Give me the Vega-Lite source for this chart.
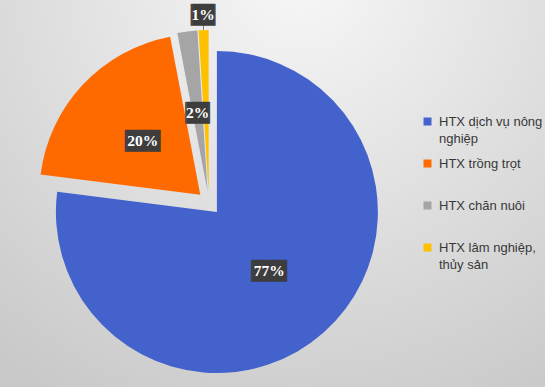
{
  "$schema": "https://vega.github.io/schema/vega-lite/v6.json",
  "width": 545,
  "height": 387,
  "autosize": {"type": "fit", "contains": "padding"},
  "padding": 0,
  "background": "#d6d6d6",
  "view": {
    "stroke": null,
    "fill": {
      "gradient": "radial",
      "x1": 0.55, "y1": 0.1, "r1": 0,
      "x2": 0.55, "y2": 0.1, "r2": 0.9,
      "stops": [
        {"offset": 0, "color": "#f7f7f7"},
        {"offset": 0.45, "color": "#e2e2e2"},
        {"offset": 1, "color": "#c8c8c8"}
      ]
    }
  },
  "config": {
    "style": {"guide-label": {"dy": 4.5, "lineHeight": 17}}
  },
  "data": {
    "values": [
      {"category": "HTX dịch vụ nông nghiệp", "share": 0.77},
      {"category": "HTX trồng trọt", "share": 0.20},
      {"category": "HTX chăn nuôi", "share": 0.02},
      {"category": "HTX lâm nghiệp, thủy sản", "share": 0.01}
    ]
  },
  "encoding": {
    "color": {
      "field": "category",
      "type": "nominal",
      "scale": {
        "domain": ["HTX dịch vụ nông nghiệp", "HTX trồng trọt", "HTX chăn nuôi", "HTX lâm nghiệp, thủy sản"],
        "range": ["#4462CC", "#FF6A00", "#A5A5A5", "#FFC000"]
      },
      "legend": {
        "title": null,
        "orient": "none",
        "legendX": 421,
        "legendY": 115,
        "symbolType": "square",
        "symbolSize": 64,
        "symbolStrokeWidth": 0,
        "labelFont": "Liberation Sans",
        "labelFontSize": 13,
        "labelColor": "#383838",
        "labelBaseline": "alphabetic",
        "labelLimit": 200,
        "labelOffset": 5,
        "gridAlign": "all",
        "rowPadding": 11,
        "labelExpr": "datum.label == 'HTX dịch vụ nông nghiệp' ? ['HTX dịch vụ nông', 'nghiệp'] : datum.label == 'HTX lâm nghiệp, thủy sản' ? ['HTX lâm nghiệp,', 'thủy sản'] : datum.label"
      }
    }
  },
  "layer": [
    {
      "transform": [
        {"stack": "share", "groupby": [], "sort": [{"field": "share", "order": "descending"}], "as": ["s0", "s1"]},
        {"filter": "datum.category === 'HTX dịch vụ nông nghiệp'"}
      ],
      "mark": {"type": "arc", "outerRadius": 161, "xOffset": 7.9, "yOffset": 9.0},
      "encoding": {
        "x": {"datum": 0, "type": "quantitative", "stack": null, "scale": {"domain": [-209, 336], "nice": false, "zero": false}, "axis": null},
        "y": {"datum": 0, "type": "quantitative", "stack": null, "scale": {"domain": [-184, 203], "nice": false, "zero": false}, "axis": null},
        "theta": {"field": "s0", "type": "quantitative", "scale": {"domain": [0, 1], "range": [0, 6.283185307179586]}},
        "theta2": {"field": "s1"}
      }
    },
    {
      "transform": [
        {"stack": "share", "groupby": [], "sort": [{"field": "share", "order": "descending"}], "as": ["s0", "s1"]},
        {"filter": "datum.category === 'HTX trồng trọt'"}
      ],
      "mark": {"type": "arc", "outerRadius": 161, "xOffset": -8.7, "yOffset": -8.2},
      "encoding": {
        "x": {"datum": 0, "type": "quantitative", "stack": null, "axis": null},
        "y": {"datum": 0, "type": "quantitative", "stack": null, "axis": null},
        "theta": {"field": "s0", "type": "quantitative"},
        "theta2": {"field": "s1"}
      }
    },
    {
      "transform": [
        {"stack": "share", "groupby": [], "sort": [{"field": "share", "order": "descending"}], "as": ["s0", "s1"]},
        {"filter": "datum.category === 'HTX chăn nuôi'"}
      ],
      "mark": {"type": "arc", "outerRadius": 161, "xOffset": -1.5, "yOffset": -11.9},
      "encoding": {
        "x": {"datum": 0, "type": "quantitative", "stack": null, "axis": null},
        "y": {"datum": 0, "type": "quantitative", "stack": null, "axis": null},
        "theta": {"field": "s0", "type": "quantitative"},
        "theta2": {"field": "s1"}
      }
    },
    {
      "transform": [
        {"stack": "share", "groupby": [], "sort": [{"field": "share", "order": "descending"}], "as": ["s0", "s1"]},
        {"filter": "datum.category === 'HTX lâm nghiệp, thủy sản'"}
      ],
      "mark": {"type": "arc", "outerRadius": 161, "xOffset": -0.4, "yOffset": -12},
      "encoding": {
        "x": {"datum": 0, "type": "quantitative", "stack": null, "axis": null},
        "y": {"datum": 0, "type": "quantitative", "stack": null, "axis": null},
        "theta": {"field": "s0", "type": "quantitative"},
        "theta2": {"field": "s1"}
      }
    },
    {
      "transform": [
        {"stack": "share", "groupby": [], "sort": [{"field": "share", "order": "descending"}], "as": ["s0", "s1"]},
        {"filter": "datum.category === 'HTX lâm nghiệp, thủy sản'"}
      ],
      "mark": {"type": "arc", "innerRadius": 161, "outerRadius": 168, "padAngle": 0.0401, "xOffset": -0.4, "yOffset": -12, "color": "#767676"},
      "encoding": {
        "x": {"datum": 0, "type": "quantitative", "stack": null, "axis": null},
        "y": {"datum": 0, "type": "quantitative", "stack": null, "axis": null},
        "theta": {"field": "s0", "type": "quantitative"},
        "theta2": {"field": "s1"},
        "color": {"value": "#767676"}
      }
    },
    {
      "mark": {"type": "text", "x": {"expr": "scale('x', 0)"}, "y": {"expr": "scale('y', 0)"}, "radius": 91, "font": "DejaVu Sans Mono", "fontSize": 18.5, "align": "center", "baseline": "middle"},
      "encoding": {
        "theta": {"field": "share", "type": "quantitative", "stack": true, "scale": {"domain": [0, 1], "range": [0, 6.283185307179586]}},
        "order": {"field": "share", "type": "quantitative", "sort": "descending"},
        "detail": {"field": "category"},
        "color": {"value": "#3d3d3d"},
        "text": {"condition": [{"test": "datum.share < 0.015", "value": ""}, {"test": "datum.share < 0.05", "value": "▕██▏"}], "value": "▕███▏"}
      }
    },
    {
      "mark": {"type": "text", "x": {"expr": "scale('x', 0)"}, "y": {"expr": "scale('y', 0)"}, "radius": 188, "font": "DejaVu Sans Mono", "fontSize": 18.5, "align": "center", "baseline": "middle"},
      "encoding": {
        "theta": {"field": "share", "type": "quantitative", "stack": true},
        "order": {"field": "share", "type": "quantitative", "sort": "descending"},
        "detail": {"field": "category"},
        "color": {"value": "#3d3d3d"},
        "text": {"condition": {"test": "datum.share < 0.015", "value": "▕██▏"}, "value": ""}
      }
    },
    {
      "mark": {"type": "text", "x": {"expr": "scale('x', 0)"}, "y": {"expr": "scale('y', 0)"}, "radius": 91, "font": "Liberation Serif", "fontWeight": "bold", "fontSize": 15.5, "align": "center", "baseline": "middle"},
      "encoding": {
        "theta": {"field": "share", "type": "quantitative", "stack": true},
        "order": {"field": "share", "type": "quantitative", "sort": "descending"},
        "detail": {"field": "category"},
        "color": {"value": "#ffffff"},
        "text": {"field": "share", "type": "quantitative", "format": ".0%", "condition": {"test": "datum.share < 0.015", "value": ""}}
      }
    },
    {
      "mark": {"type": "text", "x": {"expr": "scale('x', 0)"}, "y": {"expr": "scale('y', 0)"}, "radius": 188, "font": "Liberation Serif", "fontWeight": "bold", "fontSize": 15.5, "align": "center", "baseline": "middle"},
      "encoding": {
        "theta": {"field": "share", "type": "quantitative", "stack": true},
        "order": {"field": "share", "type": "quantitative", "sort": "descending"},
        "detail": {"field": "category"},
        "color": {"value": "#ffffff"},
        "text": {"field": "share", "type": "quantitative", "format": ".0%", "condition": {"test": "datum.share >= 0.015", "value": ""}}
      }
    }
  ]
}
